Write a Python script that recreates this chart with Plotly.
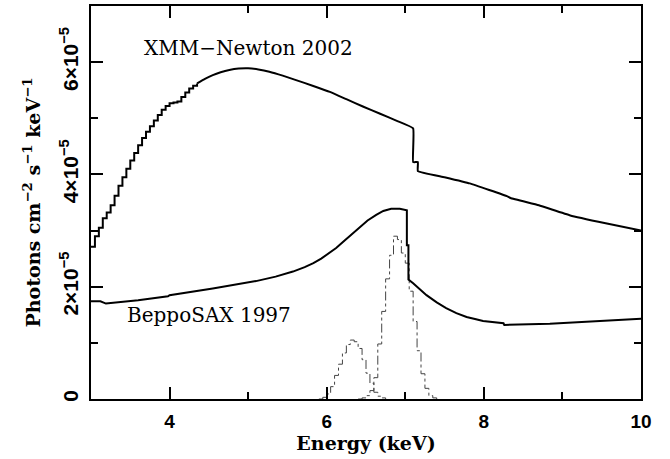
import plotly.graph_objects as go

# XMM-Newton 2002 model: low-energy staircase part (bin starts, keV) and values (1e-5 units)
xmm_step_e = [3.00, 3.05, 3.10, 3.15, 3.20, 3.25, 3.30, 3.35, 3.40, 3.45, 3.50, 3.55, 3.60,
              3.65, 3.70, 3.75, 3.80, 3.85, 3.90, 3.95, 4.00, 4.05, 4.10, 4.15, 4.20, 4.25,
              4.30, 4.35]
xmm_step_v = [2.71, 2.90, 3.05, 3.22, 3.32, 3.45, 3.62, 3.80, 3.95, 4.10, 4.25, 4.38, 4.52,
              4.65, 4.76, 4.86, 4.96, 5.06, 5.15, 5.22, 5.27, 5.28, 5.30, 5.38, 5.46, 5.53,
              5.58, 5.62]
# XMM-Newton 2002 model: smooth part
xmm_e = [4.35, 4.45, 4.55, 4.65, 4.76, 4.88, 5.00, 5.13, 5.27, 5.44, 5.61, 5.82, 6.04,
         6.25, 6.46, 6.68, 6.90, 7.10, 7.10, 7.16, 7.16, 7.50, 7.82, 8.30, 8.34, 8.70,
         9.10, 9.55, 10.0]
xmm_v = [5.62, 5.70, 5.77, 5.82, 5.86, 5.885, 5.89, 5.87, 5.83, 5.76, 5.68, 5.58, 5.47,
         5.34, 5.21, 5.08, 4.95, 4.82, 4.22, 4.22, 4.06, 3.95, 3.84, 3.61, 3.58, 3.45,
         3.27, 3.13, 3.00]

# BeppoSAX 1997 model
sax_e = [3.00, 3.12, 3.19, 3.60, 3.98, 4.00, 4.55, 5.10, 5.35, 5.57, 5.72, 5.83, 5.93,
         6.02, 6.12, 6.21, 6.32, 6.42, 6.52, 6.63, 6.72, 6.82, 6.93, 7.02, 7.02, 7.04,
         7.04, 7.10, 7.18, 7.27, 7.40, 7.52, 7.65, 7.78, 7.90, 7.99, 8.25, 8.26, 8.84,
         9.86, 10.0]
sax_v = [1.74, 1.74, 1.70, 1.76, 1.83, 1.85, 1.97, 2.10, 2.18, 2.27, 2.35, 2.42, 2.50,
         2.59, 2.69, 2.80, 2.93, 3.06, 3.18, 3.28, 3.35, 3.39, 3.39, 3.36, 2.74, 2.74,
         2.13, 2.06, 1.96, 1.85, 1.72, 1.62, 1.53, 1.46, 1.42, 1.39, 1.35, 1.32, 1.34,
         1.41, 1.43]

# Line components (histograms, bin starts in keV, values in 1e-5 units)
line1_e = [5.90, 5.95, 6.00, 6.05, 6.10, 6.15, 6.20, 6.25, 6.30, 6.35, 6.40, 6.45, 6.50,
           6.55, 6.60, 6.65, 6.70, 6.75]
line1_v = [0.00, 0.03, 0.09, 0.22, 0.42, 0.62, 0.82, 0.97, 1.05, 1.02, 0.90, 0.70, 0.46,
           0.28, 0.12, 0.05, 0.02, 0.00]
line2_e = [6.40, 6.45, 6.50, 6.55, 6.60, 6.65, 6.70, 6.75, 6.80, 6.85, 6.90, 6.95, 7.00,
           7.05, 7.10, 7.15, 7.20, 7.25, 7.30, 7.35, 7.40]
line2_v = [0.00, 0.02, 0.06, 0.15, 0.38, 0.98, 1.56, 2.14, 2.56, 2.90, 2.84, 2.60, 2.42,
           1.92, 1.38, 0.86, 0.45, 0.19, 0.06, 0.02, 0.00]

x_tickvals = [4, 6, 8, 10]
x_ticktext = ["4", "6", "8", "10"]
x_minor = [5, 7, 9]
y_tickvals = [0, 2e-5, 4e-5, 6e-5]
y_ticktext = ["0", "2×10<sup>−5</sup>", "4×10<sup>−5</sup>", "6×10<sup>−5</sup>"]
y_minor = [1e-5, 3e-5, 5e-5]

S = 1e-5
fig = go.Figure()
fig.add_trace(go.Scatter(x=line1_e, y=[v * S for v in line1_v], mode="lines",
                         line=dict(color="#444", width=1, dash="dashdot", shape="hv")))
fig.add_trace(go.Scatter(x=line2_e, y=[v * S for v in line2_v], mode="lines",
                         line=dict(color="#444", width=1, dash="dashdot", shape="hv")))
fig.add_trace(go.Scatter(x=xmm_step_e, y=[v * S for v in xmm_step_v], mode="lines",
                         line=dict(color="black", width=2, shape="hv")))
fig.add_trace(go.Scatter(x=xmm_e, y=[v * S for v in xmm_v], mode="lines",
                         line=dict(color="black", width=2, shape="spline", smoothing=0.3)))
fig.add_trace(go.Scatter(x=sax_e, y=[v * S for v in sax_v], mode="lines",
                         line=dict(color="black", width=2)))

tickfont = dict(family="Liberation Sans", size=19, color="black", weight="bold")
ytickfont = dict(family="Liberation Sans", size=21, color="black", weight="bold")
titlefont = dict(family="DejaVu Serif", size=19, color="black", weight="bold")

common = dict(ticks="inside", ticklen=12, tickwidth=2, tickcolor="black",
              showline=True, linewidth=2, linecolor="black", mirror="allticks",
              showgrid=False, zeroline=False, automargin=False)
minor_common = dict(ticks="inside", ticklen=7, tickwidth=2, tickcolor="black",
                    showgrid=False)

fig.update_layout(
    width=670, height=459,
    margin=dict(l=91, r=29, t=6, b=60),
    paper_bgcolor="white", plot_bgcolor="white",
    showlegend=False,
    xaxis=dict(range=[3, 10], tickvals=x_tickvals, ticktext=x_ticktext,
               minor=dict(tickvals=x_minor, **minor_common),
               tickfont=tickfont, ticklabelstandoff=4,
               title=dict(text="Energy (keV)", font=titlefont, standoff=2), **common),
    yaxis=dict(range=[0, 7e-5], tickvals=y_tickvals, ticktext=y_ticktext,
               tickangle=-90,
               minor=dict(tickvals=y_minor, **minor_common),
               tickfont=ytickfont, ticklabelstandoff=3,
               title=dict(text="Photons cm<sup>−2</sup> s<sup>−1</sup> keV<sup>−1</sup>",
                          font=titlefont, standoff=10), **common),
    annotations=[
        dict(x=5.0, y=6.26e-5, xref="x", yref="y", text="XMM−Newton 2002",
             showarrow=False, font=dict(family="DejaVu Serif", size=20, color="black")),
        dict(x=4.5, y=1.50e-5, xref="x", yref="y", text="BeppoSAX 1997",
             showarrow=False, font=dict(family="DejaVu Serif", size=20, color="black")),
    ],
)

fig.write_html("out.html", config={"displayModeBar": False},
               post_script="document.body.style.margin='0';document.body.style.padding='0';")
